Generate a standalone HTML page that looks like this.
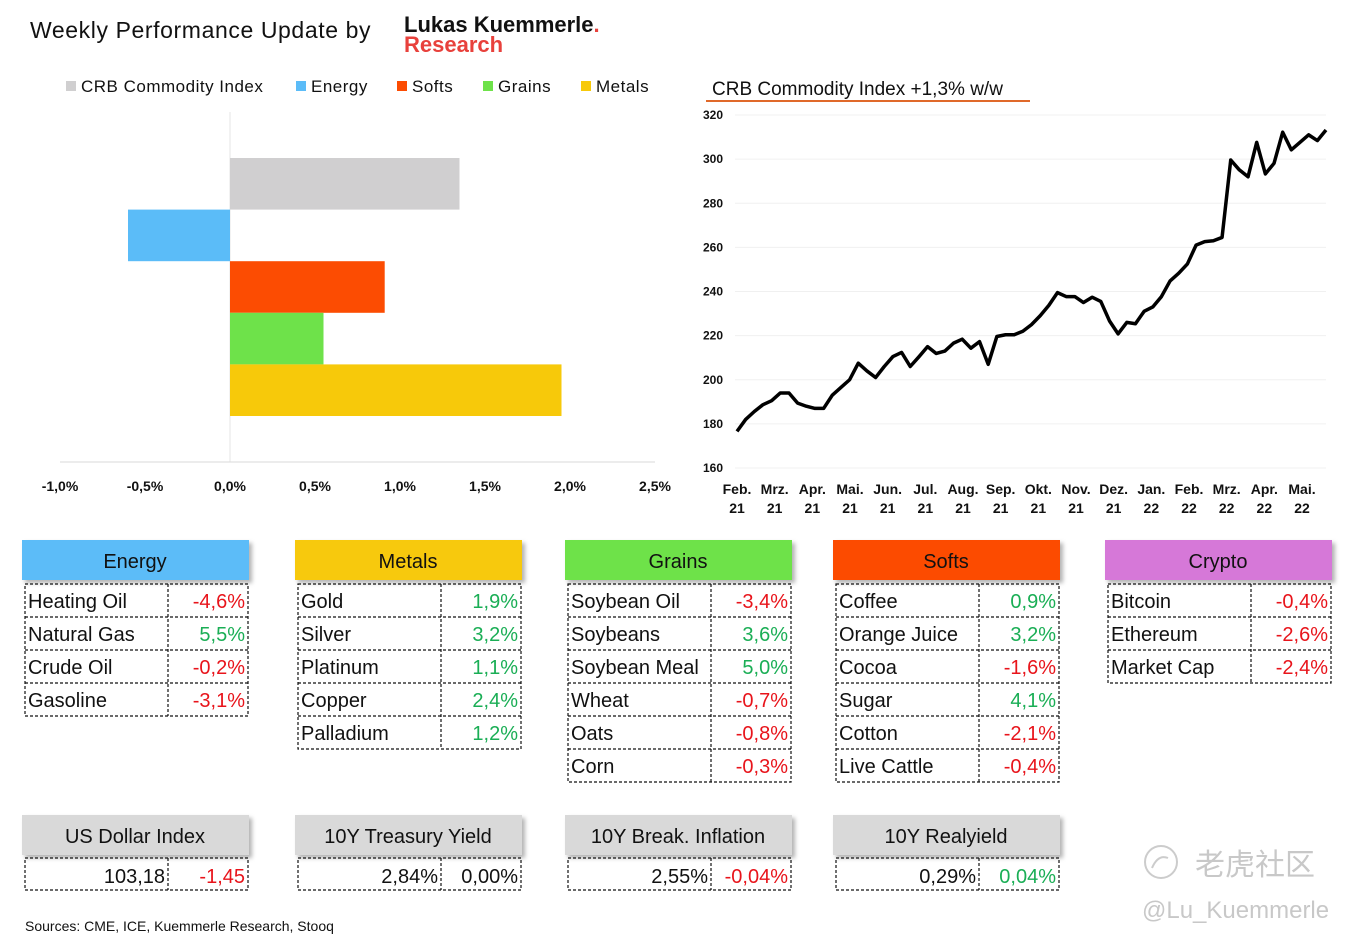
<!DOCTYPE html>
<html><head><meta charset="utf-8"><style>
html,body{margin:0;padding:0;background:#fff;}
svg{display:block;font-family:"Liberation Sans","Noto Sans CJK SC",sans-serif;}
</style></head><body>
<svg id="s" width="1357" height="941" viewBox="0 0 1357 941" xmlns="http://www.w3.org/2000/svg">
<defs><filter id="sh" x="-5%" y="-10%" width="115%" height="140%"><feDropShadow dx="3" dy="3" stdDeviation="2" flood-color="#000" flood-opacity="0.3"/></filter></defs>
<text x="30" y="38" font-size="23" letter-spacing="0.6" fill="#111">Weekly Performance Update by</text>
<text x="404" y="32" font-size="22" font-weight="bold" fill="#111">Lukas Kuemmerle<tspan fill="#e8413c">.</tspan></text>
<text x="404" y="52" font-size="22" font-weight="bold" fill="#e8413c">Research</text>
<g id="legend"></g>
<g id="bars"></g>
<text x="712" y="95" font-size="19" fill="#111">CRB Commodity Index +1,3% w/w</text>
<line x1="706" y1="101" x2="1030" y2="101" stroke="#e0692a" stroke-width="2"/>
<g id="line"></g>
<g id="tables"></g>
<text x="25" y="931" font-size="14" fill="#111">Sources: CME, ICE, Kuemmerle Research, Stooq</text>
<g fill="#c8c8c8">
<circle cx="1161" cy="862" r="16" fill="none" stroke="#ccc" stroke-width="2"/>
<path d="M1152 868 q6 -14 16 -10" fill="none" stroke="#ccc" stroke-width="2"/>
<text x="1195" y="875" font-size="30" font-family="Noto Sans CJK SC, sans-serif">老虎社区</text>
<text x="1142" y="918" font-size="24">@Lu_Kuemmerle</text>
</g>
</svg>
<script>
const NS="http://www.w3.org/2000/svg";
function mk(p,t,a,txt){const e=document.createElementNS(NS,t);for(const k in a)e.setAttribute(k,a[k]);if(txt!==undefined)e.textContent=txt;p.appendChild(e);return e;}
// ---- bar chart data
const barCategories=["CRB Commodity Index","Energy","Softs","Grains","Metals"];
const barValues=[1.35,-0.6,0.91,0.55,1.95];
const barColors=["#d0cfd0","#5bbcf8","#fc4c02","#6ee24a","#f7c90a"];
const barTicks=[-1,-0.5,0,0.5,1,1.5,2,2.5];
const barTickLabels=["-1,0%","-0,5%","0,0%","0,5%","1,0%","1,5%","2,0%","2,5%"];
const bx=v=>230+v*170;
const bg=document.getElementById('bars');
mk(bg,'line',{x1:230,y1:112,x2:230,y2:462,stroke:'#e6e6e6'});
mk(bg,'line',{x1:60,y1:462,x2:655,y2:462,stroke:'#d9d9d9'});
barTicks.forEach((t,i)=>{const e=mk(bg,'text',{x:bx(t),y:491,'font-size':14,'font-weight':600,'text-anchor':'middle',fill:'#111'},barTickLabels[i]);

});
barValues.forEach((v,i)=>{const y=158+i*51.6;const r=mk(bg,'rect',{x:Math.min(bx(0),bx(v)),y:y,width:Math.abs(bx(v)-bx(0)),height:51.6,fill:barColors[i]});

});
const lg=document.getElementById('legend');
const legX=[66,296,397,483,581];
barCategories.forEach((c,i)=>{const g=mk(lg,'g',{});


mk(g,'rect',{x:legX[i],y:81,width:10,height:10,fill:barColors[i]});mk(g,'text',{x:legX[i]+15,y:92,'font-size':17,'letter-spacing':0.5,fill:'#111'},c);});
// ---- line chart data
const lineValues=[176.6,182,185.6,188.7,190.5,194,194,189.4,188,187,187,193,196.5,200,207.5,204,201,206,210.5,212.4,206,210.4,215,211.9,213,216.6,218.4,214.3,217.3,207,219.6,220.4,220.4,222,225,229,233.7,239.5,237.7,237.7,235,237.4,235.5,226.7,220.8,226,225.4,231,233,237.7,244.8,248.3,252.5,261,262.6,263,264.5,299.6,295.1,292,307.6,293.3,298.1,312.2,304.2,307.6,311,308.4,313.2];
const yTicks=[160,180,200,220,240,260,280,300,320];
const monthLabels=["Feb.","Mrz.","Apr.","Mai.","Jun.","Jul.","Aug.","Sep.","Okt.","Nov.","Dez.","Jan.","Feb.","Mrz.","Apr.","Mai."];
const yearLabels=["21","21","21","21","21","21","21","21","21","21","21","22","22","22","22","22"];
const ly=v=>468-(v-160)*(353/160);
const lx=i=>737+i*(1326-737)/(lineValues.length-1);
const lgp=document.getElementById('line');
yTicks.forEach(t=>{mk(lgp,'line',{x1:735,y1:ly(t),x2:1326,y2:ly(t),stroke:'#f0f0f0'});
const e=mk(lgp,'text',{x:723,y:ly(t)+4,'font-size':12,'font-weight':600,'text-anchor':'end',fill:'#111'},t);

});
monthLabels.forEach((m,i)=>{const x=737+i*(1302-737)/15;
const e=mk(lgp,'text',{x:x,y:494,'font-size':14,'font-weight':600,'text-anchor':'middle',fill:'#111'},m);


mk(lgp,'text',{x:x,y:513,'font-size':14,'font-weight':600,'text-anchor':'middle',fill:'#111'},yearLabels[i]);});
const pl=mk(lgp,'polyline',{points:lineValues.map((v,i)=>lx(i)+','+ly(v)).join(' '),fill:'none',stroke:'#000','stroke-width':3.5,'stroke-linejoin':'round'});


// ---- tables
const G='#1aae55',R='#e8141b';
const tables=[
 {t:"Energy",x:22,c:"#5bbcf8",rows:[["Heating Oil","-4,6%"],["Natural Gas","5,5%"],["Crude Oil","-0,2%"],["Gasoline","-3,1%"]]},
 {t:"Metals",x:295,c:"#f7c90a",rows:[["Gold","1,9%"],["Silver","3,2%"],["Platinum","1,1%"],["Copper","2,4%"],["Palladium","1,2%"]]},
 {t:"Grains",x:565,c:"#6ee24a",rows:[["Soybean Oil","-3,4%"],["Soybeans","3,6%"],["Soybean Meal","5,0%"],["Wheat","-0,7%"],["Oats","-0,8%"],["Corn","-0,3%"]]},
 {t:"Softs",x:833,c:"#fc4c02",rows:[["Coffee","0,9%"],["Orange Juice","3,2%"],["Cocoa","-1,6%"],["Sugar","4,1%"],["Cotton","-2,1%"],["Live Cattle","-0,4%"]]},
 {t:"Crypto",x:1105,c:"#d678d8",rows:[["Bitcoin","-0,4%"],["Ethereum","-2,6%"],["Market Cap","-2,4%"]]}];
const tg=document.getElementById('tables');
const dash={stroke:'#111','stroke-width':1.2,'stroke-dasharray':'3,2',fill:'none'};
tables.forEach(tb=>{const g=mk(tg,'g',{});


mk(g,'rect',{x:tb.x,y:540,width:227,height:40,fill:tb.c,filter:'url(#sh)'});
mk(g,'text',{x:tb.x+113,y:568,'font-size':20,'text-anchor':'middle',fill:'#111'},tb.t);
const n=tb.rows.length,x0=tb.x+3,x1=tb.x+146,x2=tb.x+226;
mk(g,'rect',Object.assign({x:x0,y:584,width:x2-x0,height:n*33},dash));
mk(g,'line',Object.assign({x1:x1,y1:584,x2:x1,y2:584+n*33},dash));
tb.rows.forEach((r,i)=>{const y=584+i*33;if(i>0)mk(g,'line',Object.assign({x1:x0,y1:y,x2:x2,y2:y},dash));
mk(g,'text',{x:x0+3,y:y+24,'font-size':20,fill:'#111'},r[0]);
mk(g,'text',{x:x2-3,y:y+24,'font-size':20,'text-anchor':'end',fill:r[1][0]=='-'?R:G},r[1]);});});
const boxes=[["US Dollar Index",22,"103,18","-1,45"],["10Y Treasury Yield",295,"2,84%","0,00%"],["10Y Break. Inflation",565,"2,55%","-0,04%"],["10Y Realyield",833,"0,29%","0,04%"]];
boxes.forEach(b=>{const g=mk(tg,'g',{});


const x=b[1];mk(g,'rect',{x:x,y:815,width:227,height:40,fill:'#d9d9d9',filter:'url(#sh)'});
mk(g,'text',{x:x+113,y:843,'font-size':20,'text-anchor':'middle',fill:'#111'},b[0]);
mk(g,'rect',Object.assign({x:x+3,y:858,width:223,height:32},dash));
mk(g,'line',Object.assign({x1:x+146,y1:858,x2:x+146,y2:890},dash));
mk(g,'text',{x:x+143,y:883,'font-size':20,'text-anchor':'end',fill:'#111'},b[2]);
mk(g,'text',{x:x+223,y:883,'font-size':20,'text-anchor':'end',fill:b[3][0]=='-'?R:(b[3]=="0,00%"?'#111':G)},b[3]);});
</script>
</body></html>
